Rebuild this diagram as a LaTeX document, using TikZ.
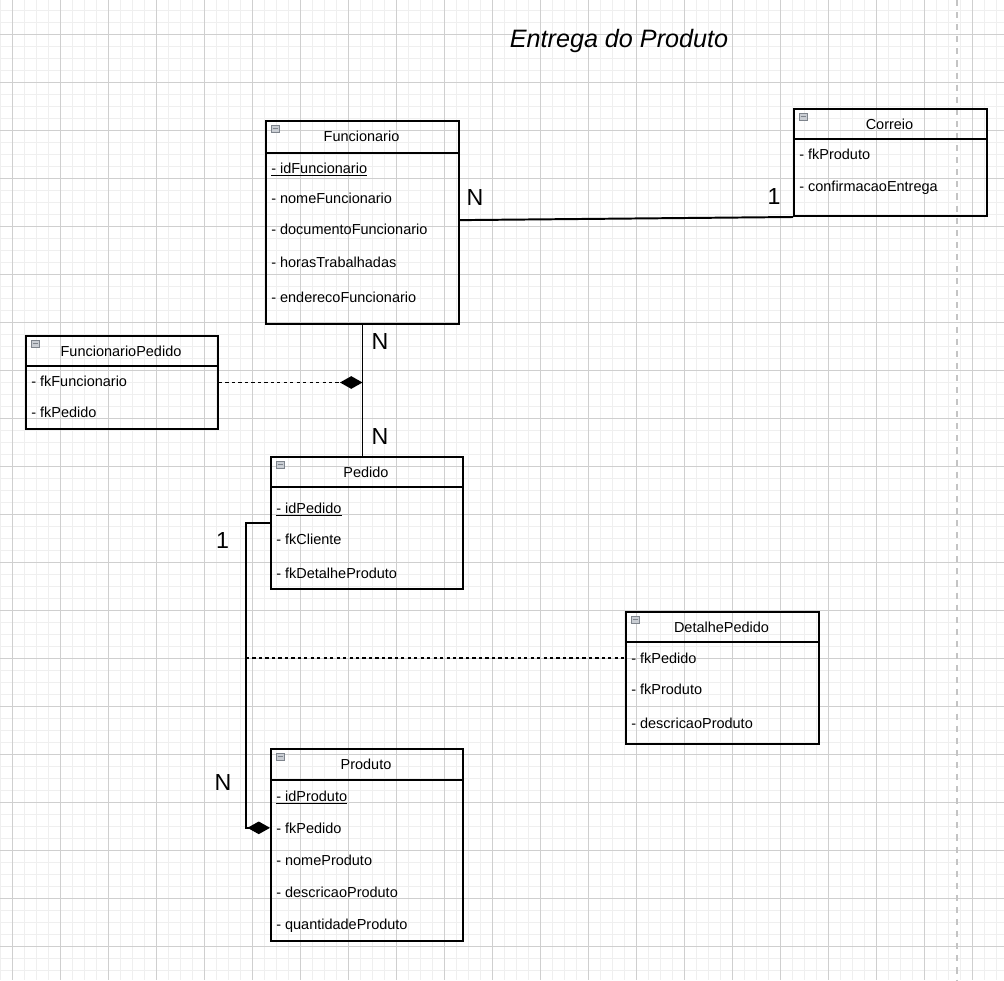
\documentclass[tikz,border=0pt]{standalone}
\usepackage{fontspec}
\setmainfont{Liberation Sans}
\usetikzlibrary{arrows.meta}
\definecolor{minorgrid}{HTML}{EFEFEF}
\definecolor{majorgrid}{HTML}{CFCFCF}
\definecolor{pageline}{HTML}{C4C4C4}
\definecolor{iconfill}{HTML}{C9CDD3}
\definecolor{icondraw}{HTML}{7E848C}

\tikzset{
  classbox/.style={draw, line width=1.4pt, rectangle, anchor=north west, inner sep=0pt},
  classname/.style={anchor=base, inner sep=0pt, font=\fontsize{10.3}{12}\selectfont},
  attr/.style={anchor=base west, inner sep=0pt, font=\fontsize{10.3}{12}\selectfont},
  mult/.style={inner sep=0pt, font=\fontsize{16.5}{18}\selectfont},
  assoc/.style={line width=1.4pt},
  dots/.style={line width=1.4pt, dash pattern=on 2.3pt off 2.3pt},
  comp/.style={-{Diamond[length=16pt,width=9pt]}},
  minorline/.style={draw=minorgrid, line width=0.7pt},
  majorline/.style={draw=majorgrid, line width=0.6pt},
  icon/.style={fill=iconfill, draw=icondraw, line width=0.4pt}
}

\begin{document}
\begin{tikzpicture}[x=0.025cm, y=-0.025cm]
  \useasboundingbox (0,0) rectangle (1004,980);

  % grid
  \foreach \gx in {0,12,...,996} \draw[minorline] (\gx,0) -- (\gx,980);
  \foreach \gy in {10,22,...,970} \draw[minorline] (0,\gy) -- (1004,\gy);
  \foreach \gx in {12,60,...,996} \draw[majorline] (\gx,0) -- (\gx,980);
  \foreach \gy in {34,82,...,970} \draw[majorline] (0,\gy) -- (1004,\gy);
  \draw[pageline, line width=1.4pt, dash pattern=on 4.3pt off 4.3pt] (957,0) -- (957,980);

  \node[anchor=base, inner sep=0pt, font=\fontsize{17.9}{20}\selectfont\itshape] (title) at (619,47.5) {Entrega do Produto};

  % classes
  \node[classbox, minimum width=4.825cm, minimum height=5.075cm] (funcionario) at (265,120) {};
  \node[classbox, minimum width=4.825cm, minimum height=2.675cm] (correio) at (793,108) {};
  \node[classbox, minimum width=4.8cm, minimum height=2.325cm] (funcpedido) at (25,335) {};
  \node[classbox, minimum width=4.8cm, minimum height=3.3cm] (pedido) at (270,456) {};
  \node[classbox, minimum width=4.825cm, minimum height=3.3cm] (detalhe) at (625,611) {};
  \node[classbox, minimum width=4.8cm, minimum height=4.8cm] (produto) at (270,748) {};

  \foreach \cls/\hy in {funcionario/153, correio/139, funcpedido/366, pedido/487, detalhe/642, produto/780} {
    \draw[line width=1.4pt] (\cls.west |- 0,\hy) -- (\cls.east |- 0,\hy);
    \draw[icon] ([shift={(6,5)}]\cls.north west) rectangle ++(8,7.5);
    \draw[icondraw, line width=0.9pt] ([shift={(7.5,8.75)}]\cls.north west) -- ++(5,0);
  }

  \node[classname] (funcionarioTitle) at (361.5,141.5) {Funcionario};
  \node[classname] (correioTitle) at (889.5,129) {Correio};
  \node[classname] (funcpedidoTitle) at (121,356) {FuncionarioPedido};
  \node[classname] (pedidoTitle) at (366,477) {Pedido};
  \node[classname] (detalheTitle) at (721.5,632) {DetalhePedido};
  \node[classname] (produtoTitle) at (366,769.5) {Produto};

  % attributes
  \foreach \y/\txt [count=\i] in {173/{\underline{- idFuncionario}}, 203/- nomeFuncionario,
      234/- documentoFuncionario, 267/- horasTrabalhadas, 302/- enderecoFuncionario}
    \node[attr] (funcionario\i) at (271,\y) {\txt};
  \foreach \y/\txt [count=\i] in {159/- fkProduto, 191/- confirmacaoEntrega}
    \node[attr] (correio\i) at (799,\y) {\txt};
  \foreach \y/\txt [count=\i] in {386/- fkFuncionario, 417/- fkPedido}
    \node[attr] (funcpedido\i) at (31,\y) {\txt};
  \foreach \y/\txt [count=\i] in {513/{\underline{- idPedido}}, 544/- fkCliente, 578/- fkDetalheProduto}
    \node[attr] (pedido\i) at (276,\y) {\txt};
  \foreach \y/\txt [count=\i] in {663/- fkPedido, 694/- fkProduto, 728/- descricaoProduto}
    \node[attr] (detalhe\i) at (631,\y) {\txt};
  \foreach \y/\txt [count=\i] in {801/{\underline{- idProduto}}, 833/- fkPedido, 865/- nomeProduto,
      897/- descricaoProduto, 929/- quantidadeProduto}
    \node[attr] (produto\i) at (276,\y) {\txt};

  % connectors
  \draw[assoc] ([yshift=1.7pt]funcionario.east) -- (correio.south west);
  \draw[assoc] (funcionario.south) -- (funcionario.south |- pedido.north);
  \draw[dots, comp] (funcpedido.east) -- (funcpedido.east -| funcionario.south);
  \draw[assoc, comp] (pedido.west) -- ++(-24,0) coordinate (spine) |- (produto.west |- produto2);
  \draw[dots] (spine |- detalhe1) -- (detalhe.west |- detalhe1);

  % multiplicities
  \node[mult] (multFC) at (475,197.5) {N};
  \node[mult] (multCF) at (774,196.5) {1};
  \node[mult] (multFP1) at (380,342) {N};
  \node[mult] (multFP2) at (380,437) {N};
  \node[mult] (multPP1) at (222.5,541) {1};
  \node[mult] (multPP2) at (223,783) {N};
\end{tikzpicture}
\end{document}
